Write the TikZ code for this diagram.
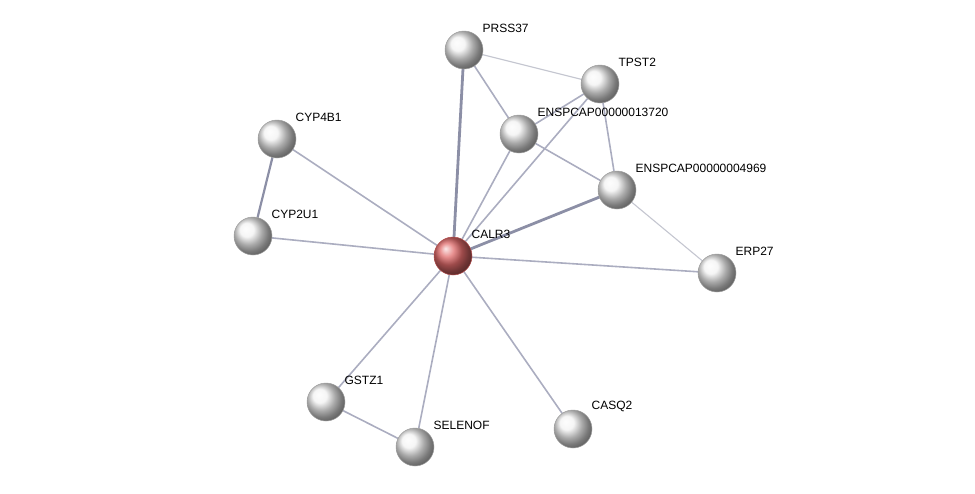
\documentclass[tikz,border=0pt]{standalone}
\usepackage{fontspec}
\setmainfont{Liberation Sans}
\usetikzlibrary{shapes,backgrounds,shadows}
\definecolor{edgecol}{HTML}{ABADC0}
\definecolor{edgedark}{HTML}{8C8FA6}
\definecolor{edgelight}{HTML}{C4C6D0}
\definecolor{queryred}{HTML}{E06A6A}
\begin{document}
\begin{tikzpicture}[x=1pt,y=-1pt]
\tikzstyle{prot}=[circle,minimum size=38pt,inner sep=0pt,outer sep=0pt,shading=ball,ball color=gray!10,draw=gray!75,line width=0.5pt]
\tikzstyle{query}=[prot,ball color=queryred,draw=red!40!gray]
\tikzstyle{lab}=[anchor=south west,inner sep=0pt,xshift=5pt,yshift=4pt,font=\fontsize{12}{14}\selectfont]
\tikzstyle{every label}=[lab]
\tikzstyle{link}=[edgecol,line width=1.6pt]
\tikzstyle{strong}=[edgedark,line width=2.8pt]
\tikzstyle{weak}=[edgelight,line width=1.1pt]
\useasboundingbox (0,0) rectangle (975,493);
\node[prot] (prss) at (464,50) [label=45:PRSS37] {};
\node[prot] (tpst) at (600,84) [label=45:TPST2] {};
\node[prot] (ens13720) at (519,134) [label=45:ENSPCAP00000013720] {};
\node[prot] (ens4969) at (617,190) [label=45:ENSPCAP00000004969] {};
\node[prot] (cyp4b) at (277,139) [label=45:CYP4B1] {};
\node[prot] (cyp2u) at (253,236) [label=45:CYP2U1] {};
\node[query] (calr) at (453,256) [label=45:CALR3] {};
\node[prot] (erp) at (717,273) [label=45:ERP27] {};
\node[prot] (gstz) at (326,402) [label=45:GSTZ1] {};
\node[prot] (selenof) at (415,447) [label=45:SELENOF] {};
\node[prot] (casq) at (573,429) [label=45:CASQ2] {};
\begin{pgfonlayer}{background}
\draw[strong] (calr) -- (prss);
\draw[strong] (calr) -- (ens4969);
\foreach \t in {tpst,ens13720,erp,cyp4b,cyp2u,gstz,selenof,casq}
  \draw[link] (calr) -- (\t);
\draw[weak] (prss) -- (tpst);
\draw[link] (prss) -- (ens13720);
\draw[link] (tpst) -- (ens13720);
\draw[link] (tpst) -- (ens4969);
\draw[link] (ens13720) -- (ens4969);
\draw[weak] (ens4969) -- (erp);
\draw[link,line width=2.2pt,edgedark] (cyp4b) -- (cyp2u);
\draw[link] (gstz) -- (selenof);
\end{pgfonlayer}
\end{tikzpicture}
\end{document}
